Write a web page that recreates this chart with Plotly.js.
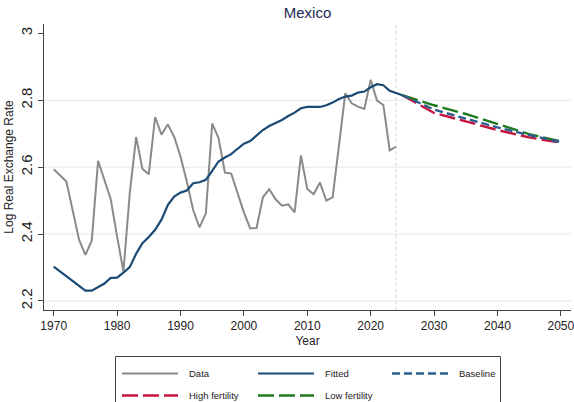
<!DOCTYPE html>
<html>
<head>
<meta charset="utf-8">
<script src="https://cdn.plot.ly/plotly-3.0.1.min.js"></script>
<style>
  html, body { margin: 0; padding: 0; background: #fff; }
  #chart { width: 574px; height: 402px; }
</style>
</head>
<body>
<div id="chart"></div>
<script>
// Observed log real exchange rate, Mexico
const histYears = [];
for (let y = 1970; y <= 2024; y++) histYears.push(y);
const dataVals = [
  2.594, 2.575, 2.557, 2.470, 2.383, 2.338, 2.380, 2.619, 2.562, 2.504,
  2.393, 2.288, 2.522, 2.690, 2.595, 2.579, 2.750, 2.697, 2.728, 2.691,
  2.632, 2.557, 2.472, 2.420, 2.462, 2.730, 2.687, 2.584, 2.581, 2.525,
  2.465, 2.417, 2.418, 2.510, 2.534, 2.504, 2.485, 2.489, 2.465, 2.635,
  2.535, 2.519, 2.554, 2.500, 2.510, 2.665, 2.821, 2.791, 2.781, 2.774,
  2.861, 2.799, 2.786, 2.650, 2.661
];

// Fitted trend, 1970-2025
const fitYears = [];
for (let y = 1970; y <= 2025; y++) fitYears.push(y);
const fittedVals = [
  2.303, 2.289, 2.274, 2.260, 2.245, 2.231, 2.231, 2.242, 2.252, 2.269,
  2.270, 2.285, 2.301, 2.341, 2.373, 2.391, 2.413, 2.443, 2.487, 2.512,
  2.524, 2.530, 2.552, 2.555, 2.562, 2.589, 2.617, 2.629, 2.639, 2.655,
  2.670, 2.678, 2.696, 2.711, 2.723, 2.731, 2.741, 2.753, 2.763, 2.776,
  2.780, 2.780, 2.780, 2.785, 2.793, 2.804, 2.811, 2.814, 2.823, 2.826,
  2.839, 2.848, 2.845, 2.828, 2.821, 2.815
];

// Projection scenarios
const projYears = [2025, 2030, 2035, 2040, 2045, 2050];
const baselineVals = [2.815, 2.772, 2.745, 2.719, 2.696, 2.675];
const highFertVals = [2.815, 2.762, 2.737, 2.711, 2.689, 2.673];
const lowFertVals  = [2.815, 2.785, 2.759, 2.729, 2.699, 2.677];

const xTicks = [1970, 1980, 1990, 2000, 2010, 2020, 2030, 2040, 2050];
const yTicks = [2.2, 2.4, 2.6, 2.8, 3];
const yTickText = ['2.2', '2.4', '2.6', '2.8', '3'];
const gridVals = [2.2, 2.4, 2.6, 2.8];
const splitYear = 2024;

const seriesNames = ['Data', 'Fitted', 'Baseline', 'High fertility', 'Low fertility'];

const COL = {
  data: '#8a8a8a',
  fitted: '#1b4a74',
  baseline: '#2d5d8c',
  high: '#c8143c',
  low: '#1f7a1f'
};
const styles = [
  { color: COL.data, dash: 'solid', width: 2 },
  { color: COL.fitted, dash: 'solid', width: 2.2 },
  { color: COL.baseline, dash: '8px,4px', width: 2.4 },
  { color: COL.high, dash: '16px,5px', width: 2.4 },
  { color: COL.low, dash: '16px,5px', width: 2.4 }
];

const W = 574, H = 402;
const M = { l: 44, r: 3, t: 24, b: 92 };
const pw = W - M.l - M.r, ph = H - M.t - M.b;
const px2x = p => (p - M.l) / pw;
const py2y = p => (H - M.b - p) / ph;

const xs = [histYears, fitYears, projYears, projYears, projYears];
const ys = [dataVals, fittedVals, baselineVals, highFertVals, lowFertVals];
const order = [0, 1, 3, 4, 2];

const traces = order.map(i => ({
  x: xs[i], y: ys[i], type: 'scatter', mode: 'lines', name: seriesNames[i],
  line: { color: styles[i].color, width: styles[i].width, dash: styles[i].dash },
  showlegend: false, hoverinfo: 'skip'
}));

const shapes = [];
// horizontal grid
gridVals.forEach(v => shapes.push({
  type: 'line', xref: 'paper', yref: 'y', x0: 0, x1: 1, y0: v, y1: v,
  line: { color: '#dfe9ee', width: 1 }, layer: 'below'
}));
// split between observed and projected
shapes.push({
  type: 'line', xref: 'x', yref: 'paper', x0: splitYear, x1: splitYear, y0: 0, y1: 1,
  line: { color: '#cfcfcf', width: 1, dash: 'dot' }, layer: 'below'
});

// legend box
shapes.push({
  type: 'rect', xref: 'paper', yref: 'paper',
  x0: px2x(115.5), x1: px2x(500.5), y0: py2y(420), y1: py2y(356.5),
  line: { color: '#444', width: 1 }, fillcolor: 'rgba(0,0,0,0)'
});
const annotations = [];
const slots = [
  { col: 0, row: 0 }, { col: 1, row: 0 }, { col: 2, row: 0 },
  { col: 0, row: 1 }, { col: 1, row: 1 }
];
const colX = [122, 258, 392];
const rowY = [373.5, 395.5];
slots.forEach((s, i) => {
  const x0 = colX[s.col], yy = rowY[s.row];
  shapes.push({
    type: 'line', xref: 'paper', yref: 'paper',
    x0: px2x(x0), x1: px2x(x0 + 56), y0: py2y(yy), y1: py2y(yy),
    line: { color: styles[i].color, width: styles[i].width, dash: styles[i].dash }
  });
  annotations.push({
    xref: 'paper', yref: 'paper', x: px2x(x0 + 65), y: py2y(yy),
    xanchor: 'left', yanchor: 'middle', showarrow: false,
    text: seriesNames[i],
    font: { family: 'Liberation Sans, Arial, sans-serif', size: 9.5, color: '#222' }
  });
});

const layout = {
  width: W, height: H,
  margin: M,
  paper_bgcolor: '#fff', plot_bgcolor: '#fff',
  font: { family: 'Liberation Sans, Arial, sans-serif', color: '#222' },
  title: {
    text: 'Mexico', x: 0.5, xref: 'paper', xanchor: 'center',
    y: 1 - 13 / H, yanchor: 'middle',
    font: { size: 15, color: '#1c2a52' }
  },
  showlegend: false,
  xaxis: {
    range: [1968.47, 2051.6],
    tickvals: xTicks, ticktext: xTicks.map(String),
    ticks: 'outside', ticklen: 5, tickcolor: '#444', tickwidth: 1,
    ticklabeloverflow: 'allow',
    showline: true, linecolor: '#444', linewidth: 1,
    showgrid: false, zeroline: false,
    tickfont: { size: 12, color: '#222' },
    title: { text: 'Year', font: { size: 12, color: '#222' }, standoff: 4 }
  },
  yaxis: {
    range: [2.173, 3.028],
    tickvals: yTicks, ticktext: yTickText, tickangle: -90,
    ticks: 'outside', ticklen: 5, tickcolor: '#444', tickwidth: 1,
    showline: true, linecolor: '#444', linewidth: 1,
    showgrid: false, zeroline: false,
    tickfont: { size: 15, color: '#222' },
    title: { text: 'Log Real Exchange Rate', font: { size: 12, color: '#222' }, standoff: 1 }
  },
  shapes: shapes,
  annotations: annotations
};

Plotly.newPlot('chart', traces, layout, { displayModeBar: false, staticPlot: true });
</script>
</body>
</html>
